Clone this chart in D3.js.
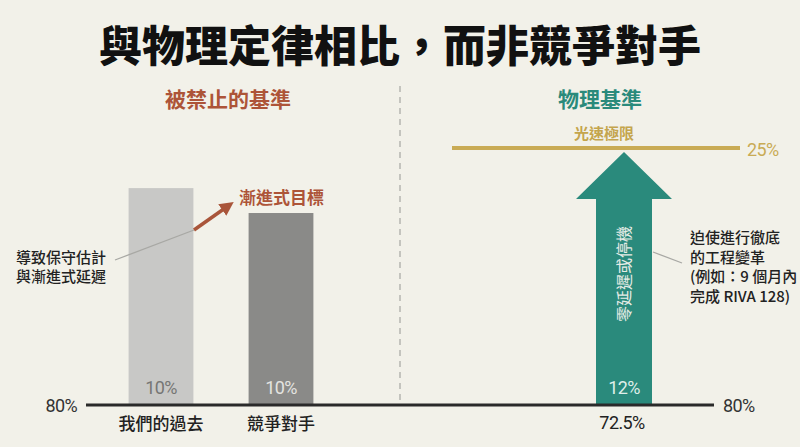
<!DOCTYPE html>
<html>
<head>
<meta charset="utf-8">
<script src="https://cdn.jsdelivr.net/npm/d3@7"></script>
<style>
  body { margin: 0; background: #f2f1e9; }
  svg { display: block; }
  text { font-family: "Noto Sans CJK TC", "Noto Sans", sans-serif; }
  .num { font-family: Roboto, "Noto Sans CJK TC", sans-serif; letter-spacing: -0.6px; }
</style>
</head>
<body>
<div id="chart"></div>
<script>
'use strict'
var width = 800;
var height = 447;

// data (heights relative to the light-speed limit = 100)
var categories = ["我們的過去", "競爭對手"];
var barValues = [84.4, 74.7];
var barLabels = ["10%", "10%"];
var arrowCategory = "72.5%";
var arrowValue = 98.4;      // arrow tip
var arrowHeadBase = 80.2;   // where the head starts
var arrowLabel = "12%";
var limitValue = 100;
var limitLabel = "25%";
var baseLabel = "80%";

var svg = d3.select("#chart")
	.append("svg")
	.attr("width", width)
	.attr("height", height);

svg.append("rect").attr("width", width).attr("height", height).attr("fill", "#f2f1e9");

// scales
var y = d3.scaleLinear().domain([0, 100]).range([405, 148]);
var xLeft = d3.scaleBand().domain(categories).range([101, 341]).paddingInner(0.46).paddingOuter(0.23);
var xRight = d3.scalePoint().domain([arrowCategory]).range([624, 624]);

// title
svg.append("text")
	.attr("x", 400).attr("y", 62)
	.attr("text-anchor", "middle")
	.style("font-size", "43px")
	.style("font-weight", 900)
	.style("fill", "#111")
	.text("與物理定律相比，而非競爭對手");

// section headers
svg.append("text")
	.attr("x", 228).attr("y", 107)
	.attr("text-anchor", "middle")
	.style("font-size", "21px").style("font-weight", 700)
	.style("fill", "#ad5438")
	.text("被禁止的基準");
svg.append("text")
	.attr("x", 600).attr("y", 107)
	.attr("text-anchor", "middle")
	.style("font-size", "21px").style("font-weight", 700)
	.style("fill", "#2a8a7b")
	.text("物理基準");

// divider
svg.append("line")
	.attr("x1", 400).attr("x2", 400)
	.attr("y1", 86).attr("y2", 405)
	.style("stroke", "#b5b5b0")
	.style("stroke-width", 1.5)
	.style("stroke-dasharray", "6,5");

// left bars
var barColors = ["#c8c8c6", "#8a8a88"];
svg.append("g")
	.selectAll("rect")
	.data(barValues)
	.enter()
	.append("rect")
		.attr("x", function(d, i){ return xLeft(categories[i]); })
		.attr("y", function(d){ return y(d); })
		.attr("width", xLeft.bandwidth())
		.attr("height", function(d){ return y(0) - y(d); })
		.attr("fill", function(d, i){ return barColors[i]; });

svg.append("g")
	.selectAll("text")
	.data(barLabels)
	.enter()
	.append("text")
		.attr("class", "num")
		.attr("x", function(d, i){ return xLeft(categories[i]) + xLeft.bandwidth() / 2; })
		.attr("y", 394)
		.attr("text-anchor", "middle")
		.style("font-size", "18px")
		.style("fill", function(d, i){ return i === 0 ? "#767674" : "#e4e4e0"; })
		.text(function(d){ return d; });

svg.append("g")
	.selectAll("text")
	.data(categories)
	.enter()
	.append("text")
		.attr("x", function(d){ return xLeft(d) + xLeft.bandwidth() / 2; })
		.attr("y", 430)
		.attr("text-anchor", "middle")
		.style("font-size", "17px")
		.style("font-weight", 500)
		.style("fill", "#222")
		.text(function(d){ return d; });

// light speed limit
svg.append("line")
	.attr("x1", 452).attr("x2", 740)
	.attr("y1", y(limitValue)).attr("y2", y(limitValue))
	.style("stroke", "#c9ab55")
	.style("stroke-width", 4);
svg.append("text")
	.attr("x", 604).attr("y", y(limitValue) - 9)
	.attr("text-anchor", "middle")
	.style("font-size", "15px").style("font-weight", 700)
	.style("fill", "#c4a54d")
	.text("光速極限");
svg.append("text")
	.attr("class", "num")
	.attr("x", 747).attr("y", y(limitValue) + 8)
	.style("font-size", "18px")
	.style("fill", "#c9ab55")
	.text(limitLabel);

// teal arrow
var cx = xRight(arrowCategory);
var shaftW = 56, headW = 96;
var arrowPts = [
	[cx - shaftW / 2, y(0)],
	[cx - shaftW / 2, y(arrowHeadBase)],
	[cx - headW / 2, y(arrowHeadBase)],
	[cx, y(arrowValue)],
	[cx + headW / 2, y(arrowHeadBase)],
	[cx + shaftW / 2, y(arrowHeadBase)],
	[cx + shaftW / 2, y(0)]
];
svg.append("path")
	.attr("d", d3.line()(arrowPts) + "Z")
	.attr("fill", "#2a8a7c");

svg.append("text")
	.attr("transform", "translate(" + (cx + 6) + "," + 274 + ") rotate(-90)")
	.attr("text-anchor", "middle")
	.style("font-size", "16px")
	.style("fill", "#e6ece6")
	.text("零延遲或停機");

svg.append("text")
	.attr("class", "num")
	.attr("x", cx).attr("y", 394)
	.attr("text-anchor", "middle")
	.style("font-size", "18px")
	.style("fill", "#dfeee9")
	.text(arrowLabel);

svg.append("text")
	.attr("class", "num")
	.attr("x", cx - 2).attr("y", 429)
	.attr("text-anchor", "middle")
	.style("font-size", "18px")
	.style("fill", "#222")
	.text(arrowCategory);

// baseline
svg.append("line")
	.attr("x1", 86).attr("x2", 714)
	.attr("y1", y(0)).attr("y2", y(0))
	.style("stroke", "#2a2a2a")
	.style("stroke-width", 3);
svg.append("text")
	.attr("class", "num")
	.attr("x", 77).attr("y", y(0) + 7)
	.attr("text-anchor", "end")
	.style("font-size", "18px")
	.style("fill", "#333")
	.text(baseLabel);
svg.append("text")
	.attr("class", "num")
	.attr("x", 723).attr("y", y(0) + 7)
	.style("font-size", "18px")
	.style("fill", "#333")
	.text(baseLabel);

// left annotation
var leftNote = ["導致保守估計", "與漸進式延遲"];
svg.append("g")
	.selectAll("text")
	.data(leftNote)
	.enter()
	.append("text")
		.attr("x", 16)
		.attr("y", function(d, i){ return 263 + i * 19; })
		.style("font-size", "15px").style("font-weight", 500)
		.style("fill", "#222")
		.text(function(d){ return d; });
svg.append("line")
	.attr("x1", 115).attr("y1", 260).attr("x2", 194).attr("y2", 230)
	.style("stroke", "#a8a8a4").style("stroke-width", 1.3);

svg.append("defs").append("marker")
	.attr("id", "head")
	.attr("viewBox", "0 0 10 10")
	.attr("refX", 5).attr("refY", 5)
	.attr("markerWidth", 4).attr("markerHeight", 4)
	.attr("orient", "auto")
	.append("path").attr("d", "M0,0L10,5L0,10Z").attr("fill", "#a9553a");
svg.append("line")
	.attr("x1", 194).attr("y1", 230).attr("x2", 228).attr("y2", 206)
	.style("stroke", "#a9553a").style("stroke-width", 3.5)
	.attr("marker-end", "url(#head)");
svg.append("text")
	.attr("x", 239).attr("y", 204)
	.style("font-size", "17px").style("font-weight", 700)
	.style("fill", "#ad5438")
	.text("漸進式目標");

// right annotation
var rightNote = ["迫使進行徹底", "的工程變革", "(例如：9 個月內", "完成 RIVA 128)"];
svg.append("g")
	.selectAll("text")
	.data(rightNote)
	.enter()
	.append("text")
		.attr("x", 690)
		.attr("y", function(d, i){ return 243 + i * 19.5; })
		.style("font-size", "15px").style("font-weight", 500)
		.style("fill", "#222")
		.text(function(d){ return d; });
svg.append("line")
	.attr("x1", 653).attr("y1", 252).attr("x2", 682).attr("y2", 263)
	.style("stroke", "#a8a8a4").style("stroke-width", 1.3);
</script>
</body>
</html>
